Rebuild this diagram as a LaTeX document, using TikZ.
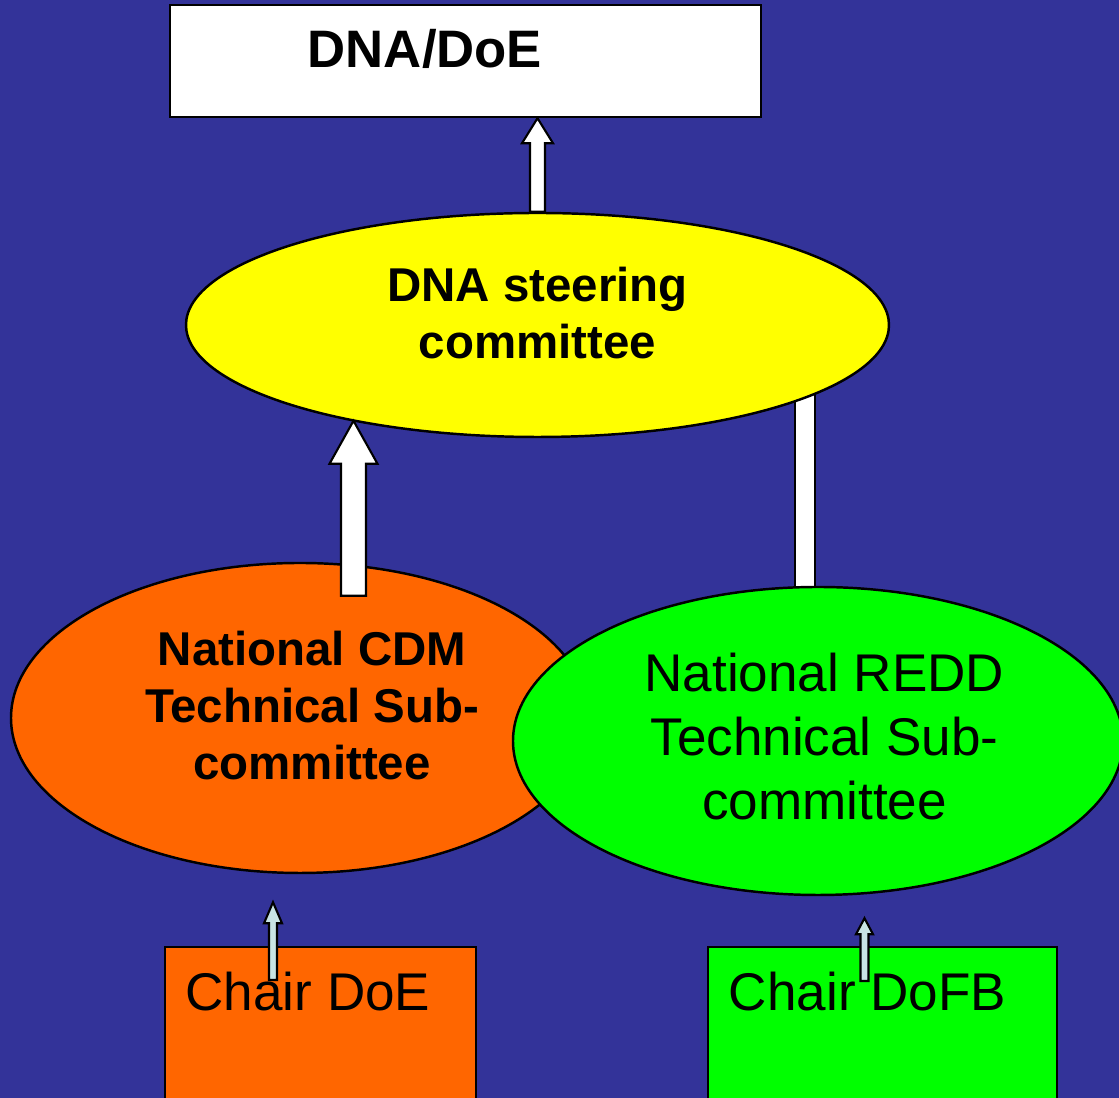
\documentclass[tikz,border=0pt]{standalone}
\usepackage{fontspec}
\setmainfont{Liberation Sans}
\usepackage{tikz}
\usetikzlibrary{shapes.geometric}
\usetikzlibrary{calc}
\definecolor{azul}{RGB}{51,51,153}
\definecolor{laranja}{RGB}{255,102,0}
\definecolor{amarelo}{RGB}{255,255,0}
\definecolor{verde}{RGB}{0,255,0}
\definecolor{ciano}{RGB}{200,228,228}
\tikzstyle{block}=[draw=black,line width=0.6pt,fill=white]
\tikzstyle{thin block}=[draw=black,line width=0.6pt,fill=ciano]
\pgfdeclarelayer{fundo}
\pgfdeclarelayer{tras}
\pgfsetlayers{fundo,tras,main}

% seta larga para cima: origem, destino, meia haste, meia ponta, comprimento da ponta
\newcommand{\setabloco}[6][block]{%
  \draw[#1] let \p1=(#2), \p2=(#3) in
    (\x1-#4,\y1) -- (\x1-#4,\y2-#6) -- (\x1-#5,\y2-#6) -- (\x1,\y2)
    -- (\x1+#5,\y2-#6) -- (\x1+#4,\y2-#6) -- (\x1+#4,\y1) -- cycle;}

\begin{document}
\begin{tikzpicture}
    % estilos dos nos
    \tikzstyle{oval}=[draw,ellipse,line width=0.7pt,inner sep=0pt]
    \tikzstyle{caixa}=[draw,rectangle,line width=0.7pt,inner sep=0pt]
    \tikzstyle{titulo}=[font=\fontsize{15}{18}\selectfont\bfseries,align=center]
    \tikzstyle{negrito}=[font=\fontsize{13.5}{16.2}\selectfont\bfseries,align=center]
    \tikzstyle{normal}=[font=\fontsize{15.1}{18.1}\selectfont,align=center]

    \begin{pgfonlayer}{fundo}
        \fill[azul] (0,0) rectangle (11.19,-10.98);
    \end{pgfonlayer}
    \useasboundingbox (0,0) rectangle (11.19,-10.98);
    \clip (0,0) rectangle (11.19,-10.98);

    \node[caixa,fill=white,minimum width=5.91cm,minimum height=1.12cm,
          label={[titulo,xshift=-0.405cm,yshift=0.12cm]center:DNA/DoE}] (top) at (4.655,-0.61) {};
    \node[oval,fill=amarelo,minimum width=7.03cm,minimum height=2.24cm,
          label={[negrito,yshift=0.12cm]center:DNA steering\\committee}] (steer) at (5.375,-3.25) {};
    \node[oval,fill=laranja,minimum width=5.78cm,minimum height=3.10cm,
          label={[negrito,xshift=0.12cm,yshift=0.125cm]center:National CDM\\Technical Sub-\\committee}] (cdm) at (3.0,-7.18) {};
    \node[oval,fill=verde,minimum width=6.1cm,minimum height=3.08cm,
          label={[normal,xshift=0.065cm,yshift=0.045cm]center:National REDD\\Technical Sub-\\committee}] (redd) at (8.18,-7.41) {};

    % caixas de baixo
    \node[caixa,fill=laranja,anchor=north,minimum width=3.11cm,minimum height=2cm,
          label={[normal,xshift=-0.125cm,yshift=0.56cm]center:Chair DoE}] (chairdoe) at (3.205,-9.46) {};
    \node[caixa,fill=verde,anchor=north,minimum width=3.49cm,minimum height=2cm,
          label={[normal,xshift=-0.15cm,yshift=0.56cm]center:Chair DoFB}] (chairdofb) at (8.825,-9.46) {};

    \begin{pgfonlayer}{tras}
        \draw[block] ($(steer.-15)+(-0.13,0.3)$) rectangle ($(steer.-15 |- redd.north)+(0.07,-0.1)$);
    \end{pgfonlayer}

    \setabloco{steer.north}{top.south -| steer.north}{0.075cm}{0.155cm}{0.25cm}
    \setabloco{$(cdm.north)+(0.535,-0.34)$}{steer.207}{0.125cm}{0.24cm}{0.43cm}
    \setabloco[thin block]{$(chairdoe.north)+(-0.475,-0.34)$}{$(cdm.south)+(0,-0.28)$}{0.04cm}{0.09cm}{0.21cm}
    \setabloco[thin block]{$(chairdofb.north)+(-0.18,-0.35)$}{$(redd.south)+(0,-0.22)$}{0.04cm}{0.085cm}{0.16cm}
\end{tikzpicture}
\end{document}
